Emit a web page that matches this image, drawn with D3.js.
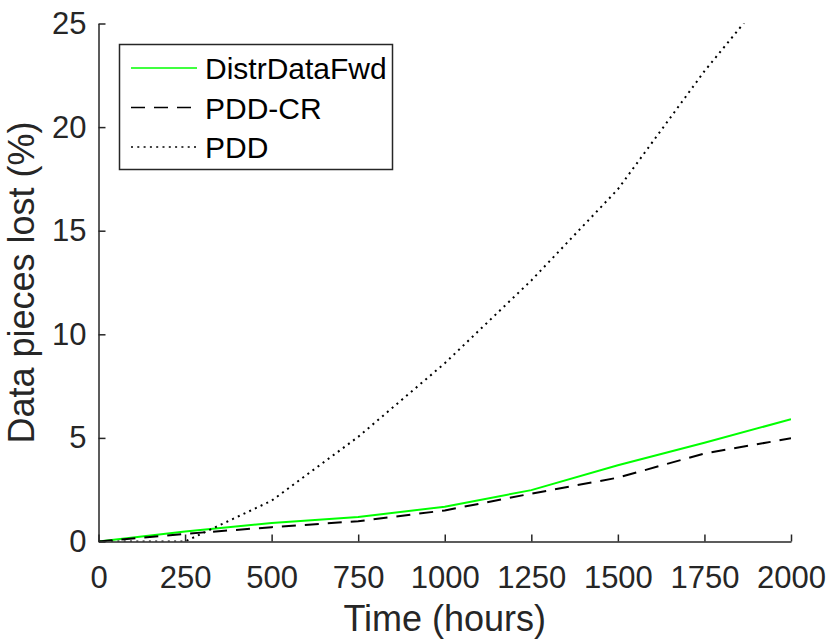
<!DOCTYPE html>
<html>
<head>
<meta charset="utf-8">
<script src="https://cdn.jsdelivr.net/npm/d3@7"></script>
<style>
  body { margin: 0; background: #fff; }
  svg { display: block; font-family: "Liberation Sans", Arial, sans-serif; }
  .axis path, .axis line { stroke: #262626; stroke-width: 1.5; }
  .axis text { fill: #262626; font-size: 31px; }
</style>
</head>
<body>
<svg id="chart" width="830" height="641"></svg>
<script>
// data
const hours = [0, 250, 500, 750, 1000, 1250, 1500, 1750, 2000];
const distrDataFwd = [0, 0.48, 0.89, 1.18, 1.68, 2.48, 3.68, 4.77, 5.9];
const pddCR = [0, 0.37, 0.69, 0.98, 1.5, 2.31, 3.08, 4.25, 4.98];
const pdd = [0, 0, 1.97, 5.05, 8.6, 12.6, 17.0, 22.7, 27.8];

const xTicks = [0, 250, 500, 750, 1000, 1250, 1500, 1750, 2000];
const yTicks = [0, 5, 10, 15, 20, 25];

const seriesNames = ['DistrDataFwd', 'PDD-CR', 'PDD'];
const seriesValues = [distrDataFwd, pddCR, pdd];
const seriesStyle = [
  { color: '#00ff00', dash: null },
  { color: '#000', dash: '14,9' },
  { color: '#000', dash: '2,4.3' }
];

const W = 830, H = 641;
const m = { left: 98.5, right: 39, top: 23.5, bottom: 99.5 };

const svg = d3.select('#chart');

const x = d3.scaleLinear().domain([0, 2000]).range([m.left, W - m.right]);
const y = d3.scaleLinear().domain([0, 25]).range([H - m.bottom, m.top]);

// clip to plot area
svg.append('defs').append('clipPath').attr('id', 'plot')
  .append('rect')
    .attr('x', m.left).attr('y', m.top)
    .attr('width', W - m.left - m.right)
    .attr('height', H - m.top - m.bottom);

// lines
const line = d3.line().x(d => x(d[0])).y(d => y(d[1]));
const lines = svg.append('g').attr('clip-path', 'url(#plot)');
seriesValues.forEach((vals, i) => {
  lines.append('path')
    .datum(hours.map((h, j) => [h, vals[j]]))
    .attr('d', line)
    .attr('fill', 'none')
    .attr('stroke', seriesStyle[i].color)
    .attr('stroke-width', 2)
    .attr('stroke-dasharray', seriesStyle[i].dash);
});

// axes (ticks inward, no box)
svg.append('g').attr('class', 'axis')
  .attr('transform', `translate(0,${H - m.bottom})`)
  .call(d3.axisBottom(x).tickValues(xTicks).tickFormat(d3.format('d'))
    .tickSizeInner(-7).tickSizeOuter(0).tickPadding(24));

svg.append('g').attr('class', 'axis')
  .attr('transform', `translate(${m.left},0)`)
  .call(d3.axisLeft(y).tickValues(yTicks).tickFormat(d3.format('d'))
    .tickSizeInner(-7).tickSizeOuter(0).tickPadding(12));

// axis titles
svg.append('text')
  .attr('x', (m.left + W - m.right) / 2)
  .attr('y', 631)
  .attr('text-anchor', 'middle')
  .attr('fill', '#262626')
  .style('font-size', '36px')
  .text('Time (hours)');

svg.append('text')
  .attr('transform', `translate(34,${(m.top + H - m.bottom) / 2}) rotate(-90)`)
  .attr('text-anchor', 'middle')
  .attr('fill', '#262626')
  .style('font-size', '36px')
  .text('Data pieces lost (%)');

// legend
const lg = svg.append('g');
lg.append('rect')
  .attr('x', 119.5).attr('y', 44.5)
  .attr('width', 273).attr('height', 125)
  .attr('fill', '#fff')
  .attr('stroke', '#262626')
  .attr('stroke-width', 1.5);

seriesNames.forEach((name, i) => {
  const cy = 68 + i * 39.5;
  lg.append('line')
    .attr('x1', 131).attr('x2', 197)
    .attr('y1', cy).attr('y2', cy)
    .attr('stroke', seriesStyle[i].color)
    .attr('stroke-width', 1.5)
    .attr('stroke-dasharray', seriesStyle[i].dash);
  lg.append('text')
    .attr('x', 205).attr('y', cy + 11)
    .attr('fill', '#000')
    .style('font-size', '30px')
    .text(name);
});
</script>
</body>
</html>
